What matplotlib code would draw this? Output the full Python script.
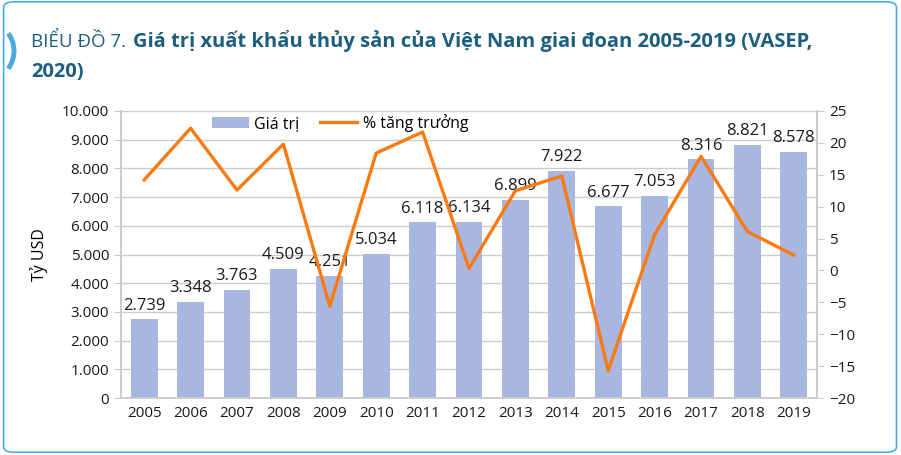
import matplotlib.pyplot as plt
from matplotlib.patches import FancyBboxPatch, Arc
from matplotlib.ticker import FuncFormatter

# du lieu
nam = ["2005", "2006", "2007", "2008", "2009", "2010", "2011", "2012",
       "2013", "2014", "2015", "2016", "2017", "2018", "2019"]
gia_tri = [2739, 3348, 3763, 4509, 4251, 5034, 6118, 6134,
           6899, 7922, 6677, 7053, 8316, 8821, 8578]
tang_truong = [14.2, 22.3, 12.6, 19.8, -5.6, 18.4, 21.7, 0.3,
               12.5, 14.8, -15.7, 5.6, 17.9, 6.1, 2.4]

plt.rcParams['font.family'] = ['Open Sans', 'DejaVu Sans']
mau_cot = "#A8B6E0"
mau_duong = "#FA7A12"
mau_chu = "#1B5E7E"
mau_khung = "#4BA9E0"

fig = plt.figure(figsize=(9.01, 4.55), dpi=100)

# khung bo tron
khung = FancyBboxPatch((0.004, 0.006), 0.991, 0.99,
                       boxstyle="round,pad=0,rounding_size=0.012",
                       transform=fig.transFigure, fill=False,
                       edgecolor=mau_khung, linewidth=1.2, zorder=0)
fig.patches.append(khung)
arc = Arc((-12 / 901, 1 - 51 / 455), 52 / 901, 56 / 455, theta1=-60, theta2=60,
          transform=fig.transFigure, color=mau_khung, linewidth=3.5)
fig.patches.append(arc)

# tieu de
fig.text(31 / 901, 1 - 47 / 455, "BIỂU ĐỒ 7.", fontsize=13.5,
         color=mau_chu, va="baseline", ha="left")
fig.text(133 / 901, 1 - 47 / 455,
         "Giá trị xuất khẩu thủy sản của Việt Nam giai đoạn 2005-2019 (VASEP,",
         fontsize=14.5, fontweight="bold", color=mau_chu, va="baseline", ha="left")
fig.text(31 / 901, 1 - 77 / 455, "2020)", fontsize=14.5, fontweight="bold",
         color=mau_chu, va="baseline", ha="left")

ax = fig.add_axes([121 / 901, 1 - 398 / 455, 696 / 901, 287 / 455])
x = list(range(len(nam)))
cot = ax.bar(x, gia_tri, width=0.58, color=mau_cot, label="Giá trị", zorder=2)
for xi, v in zip(x, gia_tri):
    ax.text(xi, v + 200, f"{v / 1000:.3f}", ha="center", va="bottom",
            fontsize=12, color="#1a1a1a", zorder=5)

ax.set_xlim(-0.5, len(nam) - 0.5)
ax.set_ylim(0, 10000)
ax.set_yticks(range(0, 10001, 1000))
ax.yaxis.set_major_formatter(FuncFormatter(
    lambda v, p: "0" if v == 0 else f"{int(v) // 1000}.000"))
ax.set_xticks(x)
ax.set_xticklabels(nam)
ax.grid(axis="y", color="#cccccc", linewidth=1, zorder=0)
ax.set_ylabel("Tỷ USD", fontsize=11.5, labelpad=10)
ax.tick_params(axis="both", labelsize=11, colors="#1a1a1a")
ax.tick_params(axis="y", length=5, color="#cccccc", direction="out")
ax.tick_params(axis="x", length=0, pad=6)
ax.spines["top"].set_visible(False)
for s in ["left", "bottom", "right"]:
    ax.spines[s].set_color("#cccccc")
    ax.spines[s].set_linewidth(1.2)

ax2 = ax.twinx()
duong, = ax2.plot(x, tang_truong, color=mau_duong, linewidth=2.4,
                  label="% tăng trưởng", zorder=4)
ax2.set_ylim(-20, 25)
ax2.set_yticks(range(-20, 26, 5))
ax2.tick_params(axis="y", labelsize=11, length=5, color="#cccccc",
                labelcolor="#1a1a1a")
ax2.spines["top"].set_visible(False)
for s in ["left", "bottom", "right"]:
    ax2.spines[s].set_color("#cccccc")
    ax2.spines[s].set_linewidth(1.2)

ax.legend([cot, duong], ["Giá trị", "% tăng trưởng"], ncol=2, frameon=False,
          loc="upper center", bbox_to_anchor=(0.315, 1.04), fontsize=11.5,
          handlelength=2.3, columnspacing=1.3, handletextpad=0.35)

fig.savefig("out.png", dpi=100)
